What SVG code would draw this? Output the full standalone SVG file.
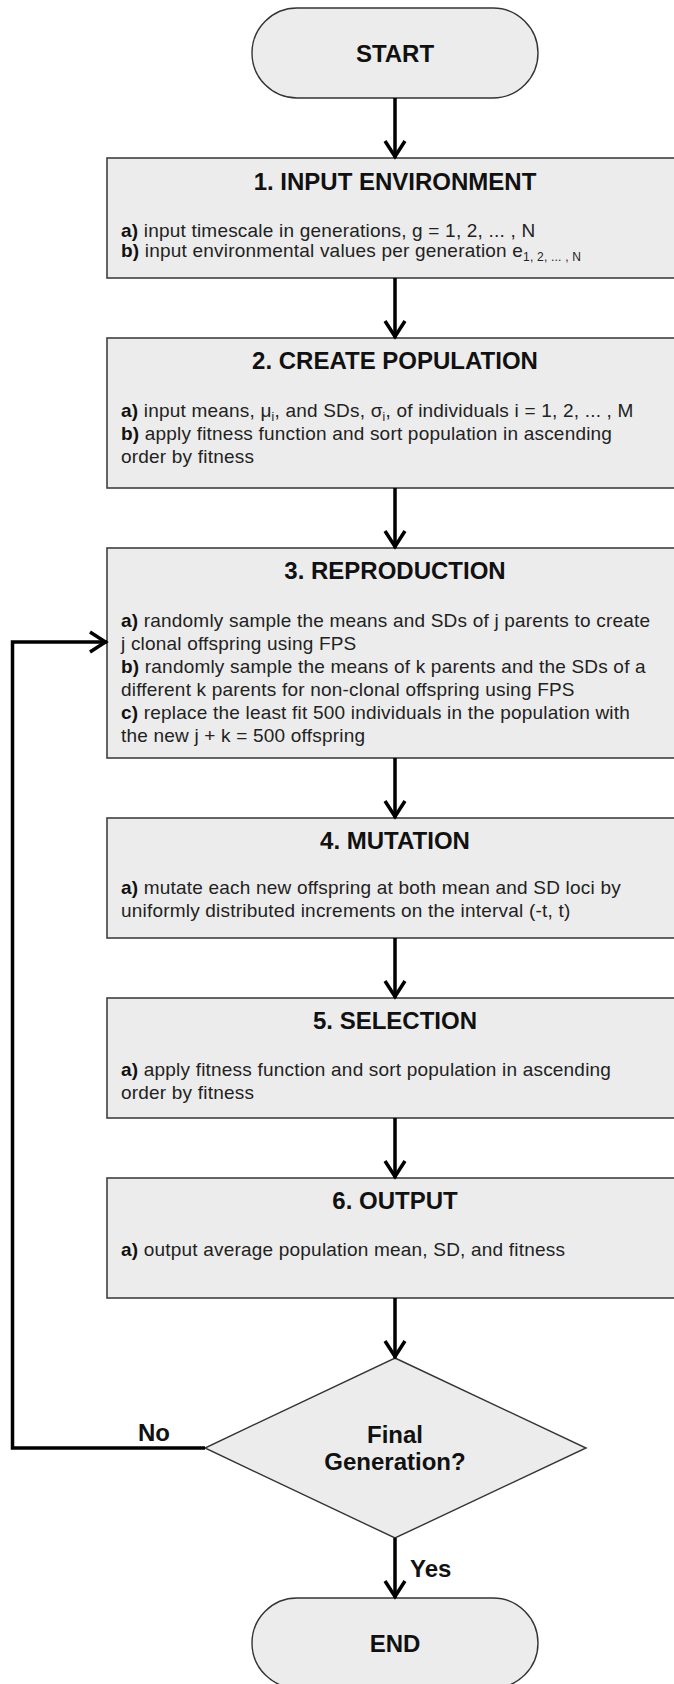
<svg xmlns="http://www.w3.org/2000/svg" width="674" height="1684" viewBox="0 0 674 1684">
<style>
.term{fill:#ececec;stroke:#333;stroke-width:1.4}
.box{fill:#ececec;stroke:#404040;stroke-width:1.6}
.dia{fill:#ececec;stroke:#333;stroke-width:1.4}
.lbl{font-family:"Liberation Sans",Arial,sans-serif;font-weight:bold;font-size:24px;fill:#111;text-anchor:middle}
.body{font-family:"Liberation Sans",Arial,sans-serif;font-size:19px;letter-spacing:0.2px;fill:#222}
.body .b{font-weight:bold;fill:#111}
.sub{font-size:12px}
.conn{fill:none;stroke:#000;stroke-width:3.5;marker-end:url(#arr)}
</style>
<defs>
<marker id="arr" viewBox="-20 -12 22 24" refX="0" refY="0" markerWidth="22" markerHeight="24" markerUnits="userSpaceOnUse" orient="auto" overflow="visible">
<path d="M-17,-10 L-1.5,0 L-17,10" fill="none" stroke="#000" stroke-width="3.5"/>
</marker>
</defs>

<g id="start">
<rect class="term" x="252" y="8" width="286" height="90" rx="45" ry="45"/>
<text class="lbl" x="395" y="62">START</text>
</g>

<g id="box1">
<rect class="box" x="107" y="158" width="580" height="120"/>
<text class="lbl" x="395" y="190">1. INPUT ENVIRONMENT</text>
<text class="body" x="121" y="237"><tspan class="b">a)</tspan> input timescale in generations, g = 1, 2, ... , N</text>
<text class="body" x="121" y="257"><tspan class="b">b)</tspan> input environmental values per generation e<tspan class="sub" dy="4">1, 2, ... , N</tspan></text>
</g>

<g id="box2">
<rect class="box" x="107" y="338" width="580" height="150"/>
<text class="lbl" x="395" y="369">2. CREATE POPULATION</text>
<text class="body" x="121" y="417"><tspan class="b">a)</tspan> input means, μ<tspan class="sub" dy="4">i</tspan><tspan dy="-4">, and SDs, σ</tspan><tspan class="sub" dy="4">i</tspan><tspan dy="-4">, of individuals i = 1, 2, ... , M</tspan></text>
<text class="body" x="121" y="440"><tspan class="b">b)</tspan> apply fitness function and sort population in ascending</text>
<text class="body" x="121" y="463">order by fitness</text>
</g>

<g id="box3">
<rect class="box" x="107" y="548" width="580" height="210"/>
<text class="lbl" x="395" y="579">3. REPRODUCTION</text>
<text class="body" x="121" y="627"><tspan class="b">a)</tspan> randomly sample the means and SDs of j parents to create</text>
<text class="body" x="121" y="650">j clonal offspring using FPS</text>
<text class="body" x="121" y="673"><tspan class="b">b)</tspan> randomly sample the means of k parents and the SDs of a</text>
<text class="body" x="121" y="696">different k parents for non-clonal offspring using FPS</text>
<text class="body" x="121" y="719"><tspan class="b">c)</tspan> replace the least fit 500 individuals in the population with</text>
<text class="body" x="121" y="742">the new j + k = 500 offspring</text>
</g>

<g id="box4">
<rect class="box" x="107" y="818" width="580" height="120"/>
<text class="lbl" x="395" y="849">4. MUTATION</text>
<text class="body" x="121" y="894"><tspan class="b">a)</tspan> mutate each new offspring at both mean and SD loci by</text>
<text class="body" x="121" y="917">uniformly distributed increments on the interval (-t, t)</text>
</g>

<g id="box5">
<rect class="box" x="107" y="998" width="580" height="120"/>
<text class="lbl" x="395" y="1029">5. SELECTION</text>
<text class="body" x="121" y="1076"><tspan class="b">a)</tspan> apply fitness function and sort population in ascending</text>
<text class="body" x="121" y="1099">order by fitness</text>
</g>

<g id="box6">
<rect class="box" x="107" y="1178" width="580" height="120"/>
<text class="lbl" x="395" y="1209">6. OUTPUT</text>
<text class="body" x="121" y="1256"><tspan class="b">a)</tspan> output average population mean, SD, and fitness</text>
</g>

<g id="decision">
<polygon class="dia" points="395,1358 586,1448 395,1538 205,1448"/>
<text class="lbl" x="395" y="1443">Final</text>
<text class="lbl" x="395" y="1470">Generation?</text>
</g>

<g id="end">
<rect class="term" x="252" y="1598" width="286" height="90" rx="45" ry="45"/>
<text class="lbl" x="395" y="1652">END</text>
</g>

<g id="connectors">
<line class="conn" x1="395" y1="98" x2="395" y2="158"/>
<line class="conn" x1="395" y1="278" x2="395" y2="338"/>
<line class="conn" x1="395" y1="488" x2="395" y2="548"/>
<line class="conn" x1="395" y1="758" x2="395" y2="818"/>
<line class="conn" x1="395" y1="938" x2="395" y2="998"/>
<line class="conn" x1="395" y1="1118" x2="395" y2="1178"/>
<line class="conn" x1="395" y1="1298" x2="395" y2="1358"/>
<line class="conn" x1="395" y1="1538" x2="395" y2="1598"/>
<polyline class="conn" points="205,1448 12.5,1448 12.5,642 107,642"/>
<text class="lbl" x="154" y="1441">No</text>
<text class="lbl" x="410" y="1577" style="text-anchor:start">Yes</text>
</g>
</svg>
